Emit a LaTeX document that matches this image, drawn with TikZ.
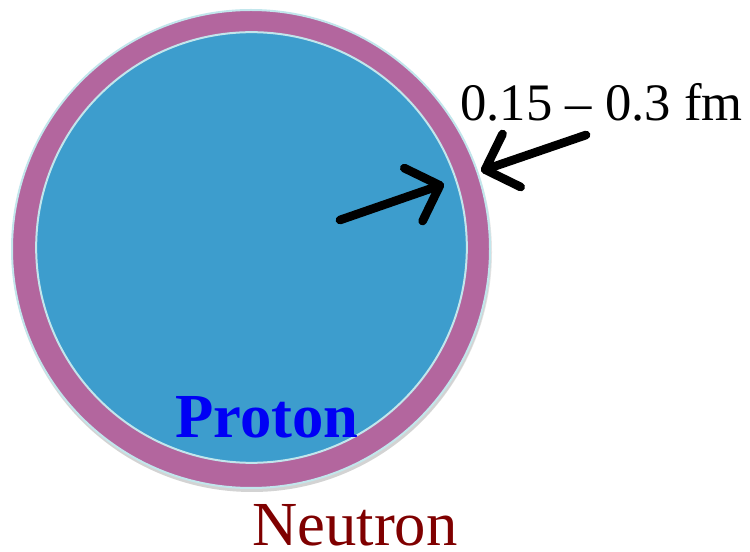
\documentclass[tikz,border=0pt]{standalone}
\usepackage{fontspec}
\setmainfont{Liberation Serif}
\usetikzlibrary{arrows.meta}
\definecolor{neutronfill}{HTML}{B3669E}
\definecolor{protonfill}{HTML}{3D9DCD}
\definecolor{rimline}{HTML}{C2E6EC}
\definecolor{protontext}{HTML}{0000F5}
\definecolor{neutrontext}{HTML}{7F0000}
\tikzset{
  ball/.style={circle, draw=rimline, line width=1.5pt, inner sep=0pt},
  fatarrow/.style={line width=6.5pt, line cap=round, -{Straight Barb[round, length=21pt, width=42pt, line width=6.5pt]}},
  lbl/.style={inner sep=0pt, anchor=base west}
}
\begin{document}
\begin{tikzpicture}[x=0.75pt, y=-0.75pt]
\useasboundingbox (0,0) rectangle (750,552);
% shadow
\fill[black, opacity=0.10] (252,252) circle (240);
\fill[black, opacity=0.08] (252,253) circle (239);
\node[ball, fill=neutronfill, minimum size=358.5pt] (neutron) at (251,249) {};
\node[ball, fill=protonfill, minimum size=323pt] (proton) at (251.5,247.5) {};
\node[lbl, font=\fontsize{47}{50}\selectfont\bfseries, text=protontext] (ptext) at (175,437) {Proton};
\node[lbl, font=\fontsize{47}{50}\selectfont, text=neutrontext] (ntext) at (252,545) {Neutron};
\node[lbl, font=\fontsize{39.5}{42}\selectfont] (size) at (460,121) {0.15 -- 0.3 fm};
\coordinate (a1s) at (340,220);
\coordinate (a1e) at (444,184);
\coordinate (a2s) at (586,135);
\coordinate (a2e) at (481,171);
\draw[fatarrow] (a1s) -- (a1e);
\draw[fatarrow] (a2s) -- (a2e);
\end{tikzpicture}
\end{document}
